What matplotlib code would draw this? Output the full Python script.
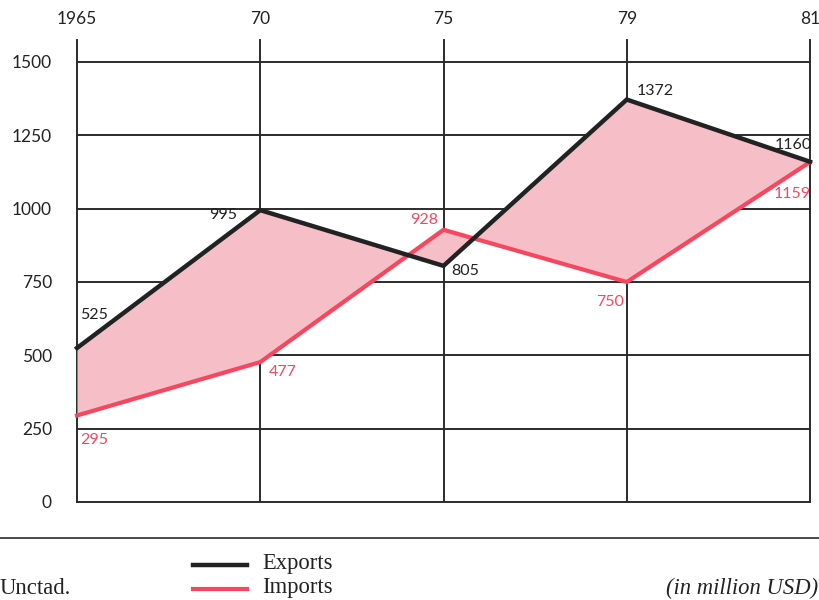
import matplotlib
matplotlib.use("Agg")
import matplotlib.pyplot as plt
from matplotlib.lines import Line2D

years = ["1965", "70", "75", "79", "81"]
exports = [525, 995, 805, 1372, 1160]
imports = [295, 477, 928, 750, 1159]
yticks = [0, 250, 500, 750, 1000, 1250, 1500]

exp_offsets = [(17, 33), (-37, -5), (22, -5), (28, 9), (-17, 17)]
imp_offsets = [(17, -25), (22, -10), (-19, 10), (-17, -20), (-18, -32)]

W, H = 819, 600
fig = plt.figure(figsize=(W / 100, H / 100), dpi=100)
fig.patch.set_facecolor("white")

left, right, bottom, top = 77, 810, 502, 40
ax = fig.add_axes([left / W, 1 - bottom / H, (right - left) / W, (bottom - top) / H])
x = list(range(len(years)))
ax.set_xlim(0, len(years) - 1)
ax.set_ylim(0, 1575)

grid_c = "#2b2b2b"
for yv in yticks:
    ax.axhline(yv, color=grid_c, lw=1.4, zorder=1, clip_on=False)
for xv in x:
    ax.axvline(xv, color=grid_c, lw=1.4, zorder=1, clip_on=False)

for s in ax.spines.values():
    s.set_visible(False)

ax.set_yticks(yticks)
ax.set_yticklabels([str(v) for v in yticks], fontsize=12.5, family="Lato", color="#222222")
ax.set_xticks(x)
ax.set_xticklabels(years, fontsize=12.5, family="Lato", color="#222222")
ax.xaxis.tick_top()
ax.tick_params(axis="x", length=0, pad=9)
ax.tick_params(axis="y", length=0, pad=18)

pink = "#f7475f"
ax.fill_between(x, exports, imports, color="#f6bec7", lw=0, zorder=2)
ax.plot(x, imports, color=pink, lw=3.0, zorder=3, clip_on=False, solid_joinstyle="miter")
ax.plot(x, exports, color="#222222", lw=3.2, zorder=4, clip_on=False, solid_joinstyle="miter")

for xi, v, off in zip(x, exports, exp_offsets):
    ax.annotate(str(v), (xi, v), xytext=off, textcoords="offset pixels",
                ha="center", va="center", fontsize=11.5, family="Lato", color="#222222", zorder=5)
for xi, v, off in zip(x, imports, imp_offsets):
    ax.annotate(str(v), (xi, v), xytext=off, textcoords="offset pixels",
                ha="center", va="center", fontsize=11.5, family="Lato", color=pink, zorder=5)

# separator and footer
fig.add_artist(Line2D([0, 1], [1 - 538 / H] * 2, color=grid_c, lw=1.2))
fig.add_artist(Line2D([193 / W, 247 / W], [1 - 565 / H] * 2, color="#222222", lw=3.2))
fig.add_artist(Line2D([193 / W, 247 / W], [1 - 589 / H] * 2, color=pink, lw=3.0))
serif = "Liberation Serif"
fs = 16.3
fig.text(262 / W, 1 - 563 / H, "Exports", family=serif, fontsize=fs, va="center", ha="left", color="#222222")
fig.text(262 / W, 1 - 588 / H, "Imports", family=serif, fontsize=fs, va="center", ha="left", color="#222222")
fig.text(0 / W, 1 - 589 / H, "Unctad.", family=serif, fontsize=fs, va="center", ha="left", color="#222222")
fig.text(818 / W, 1 - 588 / H, "(in million USD)", family=serif, style="italic", fontsize=fs,
         va="center", ha="right", color="#222222")

fig.savefig("out.png", dpi=100, facecolor="white")
